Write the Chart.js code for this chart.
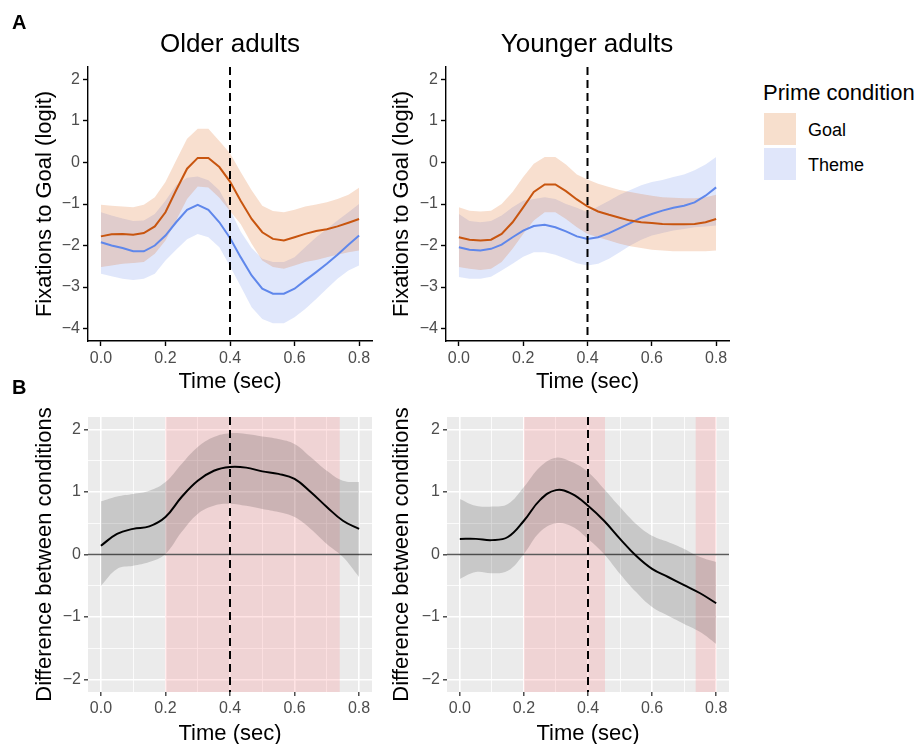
<!DOCTYPE html>
<html>
<head>
<title>Fixations to Goal by prime condition</title>
<script src="https://cdn.jsdelivr.net/npm/chart.js"></script>
<style>
  body { margin: 0; background: #fff; overflow: hidden; font-family: 'Liberation Sans', Arial, sans-serif; }
  #page { position: relative; width: 917px; height: 744px; }
  canvas { position: absolute; }
  .txt { position: absolute; line-height: 1; white-space: nowrap; color: #000; }
  .ptitle { width: 260px; text-align: center; font-size: 26px; }
  .key { position: absolute; width: 32px; height: 32px; }
</style>
</head>
<body>
<div id="page">
  <canvas id="olderTop" width="380" height="400" style="left:0;top:0"></canvas>
  <canvas id="youngerTop" width="380" height="400" style="left:358px;top:0"></canvas>
  <canvas id="olderDiff" width="380" height="352" style="left:0;top:400px"></canvas>
  <canvas id="youngerDiff" width="380" height="352" style="left:358px;top:400px"></canvas>

  <div class="txt" style="left:12px;top:12px;font-size:20px;font-weight:bold">A</div>
  <div class="txt" style="left:12px;top:377px;font-size:20px;font-weight:bold">B</div>
  <div class="txt ptitle" style="left:100px;top:30px">Older adults</div>
  <div class="txt ptitle" style="left:457px;top:30px">Younger adults</div>

  <div class="txt" style="left:763px;top:82px;font-size:22px">Prime condition</div>
  <div class="key" style="left:764px;top:113px;background:#f7dfcd"></div>
  <div class="key" style="left:764px;top:148px;background:#e0e6fa"></div>
  <div class="txt" style="left:808px;top:121px;font-size:18px">Goal</div>
  <div class="txt" style="left:808px;top:156px;font-size:18px">Theme</div>
</div>

<script>
// time points of the fitted curves (sec)
const timeTop = [0, 0.033, 0.067, 0.1, 0.133, 0.167, 0.2, 0.233, 0.267, 0.3, 0.333, 0.367, 0.4,
                 0.433, 0.467, 0.5, 0.533, 0.567, 0.6, 0.633, 0.667, 0.7, 0.733, 0.767, 0.8];

// older adults, fixations to goal (logit)
const olderGoal   = [-1.78, -1.73, -1.72, -1.74, -1.70, -1.54, -1.20, -0.67, -0.15, 0.11, 0.11, -0.11, -0.46,
                     -0.92, -1.36, -1.68, -1.84, -1.88, -1.80, -1.72, -1.65, -1.61, -1.54, -1.45, -1.36];
const olderGoalHi = [-1.02, -1.04, -1.06, -1.08, -1.02, -0.84, -0.47, 0.05, 0.57, 0.81, 0.81, 0.52, 0.22,
                     -0.23, -0.67, -1.04, -1.17, -1.20, -1.14, -1.06, -1.01, -0.96, -0.88, -0.78, -0.61];
const olderGoalLo = [-2.52, -2.48, -2.44, -2.42, -2.40, -2.20, -1.88, -1.40, -0.88, -0.58, -0.60, -0.85, -1.17,
                     -1.48, -1.96, -2.36, -2.52, -2.56, -2.48, -2.40, -2.35, -2.28, -2.22, -2.16, -2.12];
const olderTheme   = [-1.92, -2.00, -2.06, -2.14, -2.14, -2.00, -1.76, -1.44, -1.14, -1.02, -1.14, -1.44, -1.82,
                      -2.28, -2.72, -3.04, -3.16, -3.16, -3.04, -2.84, -2.64, -2.44, -2.22, -1.98, -1.76];
const olderThemeHi = [-1.20, -1.28, -1.35, -1.41, -1.40, -1.24, -0.92, -0.55, -0.37, -0.34, -0.43, -0.67, -1.14,
                      -1.66, -2.06, -2.32, -2.40, -2.40, -2.28, -2.04, -1.80, -1.60, -1.40, -1.20, -1.00];
const olderThemeLo = [-2.68, -2.74, -2.80, -2.83, -2.80, -2.68, -2.36, -2.10, -1.85, -1.72, -1.80, -2.04, -2.50,
                      -2.98, -3.49, -3.77, -3.87, -3.87, -3.73, -3.53, -3.29, -3.04, -2.80, -2.60, -2.48];

// younger adults
const youngerGoal   = [-1.80, -1.86, -1.88, -1.86, -1.72, -1.44, -1.08, -0.71, -0.53, -0.53, -0.69, -0.89, -1.06,
                       -1.18, -1.26, -1.33, -1.40, -1.44, -1.46, -1.48, -1.49, -1.49, -1.48, -1.44, -1.36];
const youngerGoalHi = [-1.08, -1.16, -1.18, -1.16, -1.00, -0.71, -0.35, -0.03, 0.13, 0.13, -0.05, -0.29, -0.41,
                       -0.51, -0.59, -0.66, -0.71, -0.76, -0.80, -0.84, -0.85, -0.86, -0.86, -0.84, -0.78];
const youngerGoalLo = [-2.52, -2.56, -2.59, -2.56, -2.40, -2.08, -1.72, -1.40, -1.20, -1.20, -1.36, -1.56, -1.72,
                       -1.80, -1.88, -1.96, -2.02, -2.06, -2.10, -2.12, -2.14, -2.14, -2.14, -2.14, -2.12];
const youngerTheme   = [-2.04, -2.10, -2.12, -2.08, -1.98, -1.80, -1.64, -1.53, -1.50, -1.56, -1.66, -1.78, -1.84,
                        -1.80, -1.70, -1.58, -1.46, -1.33, -1.24, -1.16, -1.09, -1.04, -0.96, -0.80, -0.60];
const youngerThemeHi = [-1.24, -1.41, -1.44, -1.41, -1.28, -1.08, -0.92, -0.88, -0.84, -0.88, -1.00, -1.09, -1.20,
                        -1.06, -0.92, -0.78, -0.66, -0.55, -0.47, -0.42, -0.35, -0.29, -0.19, -0.05, 0.13];
const youngerThemeLo = [-2.76, -2.80, -2.80, -2.75, -2.60, -2.44, -2.27, -2.16, -2.16, -2.22, -2.32, -2.43, -2.48,
                        -2.44, -2.32, -2.16, -2.00, -1.86, -1.76, -1.70, -1.64, -1.60, -1.56, -1.54, -1.52];

// goal minus theme difference curves
const timeDiff = [0, 0.05, 0.1, 0.15, 0.2, 0.25, 0.3, 0.35, 0.4, 0.45, 0.5, 0.55, 0.6, 0.65, 0.7, 0.75, 0.8];
const olderDiff   = [0.14, 0.33, 0.41, 0.45, 0.60, 0.92, 1.18, 1.34, 1.40, 1.39, 1.33, 1.29, 1.21, 1.00, 0.76, 0.54, 0.41];
const olderDiffHi = [0.85, 0.93, 0.97, 1.02, 1.16, 1.45, 1.72, 1.88, 1.94, 1.93, 1.89, 1.85, 1.77, 1.56, 1.34, 1.18, 1.16];
const olderDiffLo = [-0.50, -0.23, -0.18, -0.12, 0.01, 0.36, 0.65, 0.78, 0.81, 0.78, 0.73, 0.68, 0.60, 0.41, 0.17, -0.04, -0.36];
const youngerDiff   = [0.25, 0.25, 0.23, 0.28, 0.54, 0.87, 1.03, 0.97, 0.78, 0.54, 0.25, -0.02, -0.23, -0.36, -0.49, -0.62, -0.78];
const youngerDiffHi = [0.89, 0.78, 0.77, 0.81, 1.08, 1.40, 1.55, 1.48, 1.32, 1.05, 0.76, 0.49, 0.30, 0.20, 0.09, -0.04, -0.12];
const youngerDiffLo = [-0.39, -0.28, -0.30, -0.26, 0.01, 0.36, 0.50, 0.45, 0.25, 0.01, -0.31, -0.60, -0.84, -0.98, -1.11, -1.24, -1.43];

// time windows where the difference is significant
const olderClusters = [[0.2, 0.74]];
const youngerClusters = [[0.2, 0.453], [0.736, 0.8]];

const boundaryTime = 0.4;
const timeTicks = [0, 0.2, 0.4, 0.6, 0.8];
const timeTicksFine = [0, 0.1, 0.2, 0.3, 0.4, 0.5, 0.6, 0.7, 0.8];
const logitTicks = [-4, -3, -2, -1, 0, 1, 2];
const diffTicks = [-2, -1.5, -1, -0.5, 0, 0.5, 1, 1.5, 2];

const FONT = "'Liberation Sans', Arial, sans-serif";
Chart.defaults.font.family = FONT;

const goalLine = '#c8550f';
const goalFill = 'rgba(220, 95, 15, 0.2)';
const themeLine = '#5f87eb';
const themeFill = 'rgba(100, 135, 235, 0.2)';

const minus = v => String(v).replace('-', '\u2212');
const pts = (xs, ys) => xs.map((x, i) => ({x: x, y: ys[i]}));

// dashed vertical line at the boundary time
const vline = {
  id: 'vline',
  afterDatasetsDraw(chart, args, opts) {
    const {ctx, chartArea, scales} = chart;
    const x = scales.x.getPixelForValue(opts.at);
    ctx.save();
    ctx.beginPath();
    ctx.setLineDash([8, 5]);
    ctx.lineWidth = 2;
    ctx.strokeStyle = '#000';
    ctx.moveTo(x, chartArea.top);
    ctx.lineTo(x, chartArea.bottom);
    ctx.stroke();
    ctx.restore();
  }
};

// grey panel background
const panelBg = {
  id: 'panelBg',
  beforeDraw(chart) {
    const {ctx, chartArea: a} = chart;
    ctx.save();
    ctx.fillStyle = '#ebebeb';
    ctx.fillRect(a.left, a.top, a.right - a.left, a.bottom - a.top);
    ctx.restore();
  }
};

// shaded significant windows and the zero reference line
const clusters = {
  id: 'clusters',
  beforeDatasetsDraw(chart, args, opts) {
    const {ctx, chartArea: a, scales} = chart;
    ctx.save();
    ctx.fillStyle = 'rgba(255, 115, 120, 0.2)';
    opts.spans.forEach(([from, to]) => {
      const x1 = scales.x.getPixelForValue(from);
      const x2 = scales.x.getPixelForValue(to);
      ctx.fillRect(x1, a.top, x2 - x1, a.bottom - a.top);
    });
    const y0 = scales.y.getPixelForValue(0);
    ctx.beginPath();
    ctx.strokeStyle = '#5a5a5a';
    ctx.lineWidth = 1.5;
    ctx.moveTo(a.left, y0);
    ctx.lineTo(a.right, y0);
    ctx.stroke();
    ctx.restore();
  }
};

function bound(data, fill) {
  return { data: data, borderColor: 'transparent', borderWidth: 0, pointRadius: 0,
           backgroundColor: fill || 'transparent', fill: fill ? '+1' : false };
}

function timeAxis(ticks, fine, titlePad) {
  const major = v => Math.round(v * 10) % 2 === 0;
  return {
    type: 'linear', min: -0.04, max: 0.84,
    afterBuildTicks: s => { s.ticks = ticks.map(v => ({value: v})); },
    afterFit: s => { s.height = fine ? 60 : 59; },
    ticks: {
      autoSkip: false, maxRotation: 0, padding: 3, color: '#4d4d4d', font: {size: 16},
      callback: v => (major(v) ? v.toFixed(1) : '')
    },
    grid: fine ? {
      drawOnChartArea: true, tickLength: 4,
      color: '#ffffff',
      lineWidth: c => (c.tick && major(c.tick.value) ? 1.6 : 0.8),
      tickColor: c => (c.tick && major(c.tick.value) ? '#333333' : 'rgba(0,0,0,0)'),
      tickWidth: 1.3
    } : { drawOnChartArea: false, tickLength: 5, color: '#000', tickWidth: 1.4 },
    border: fine ? { display: false } : { color: '#000', width: 1.4 },
    title: { display: true, text: 'Time (sec)', color: '#000', font: {size: 22}, padding: {top: 0, bottom: titlePad} }
  };
}

function valueAxis(min, max, ticks, fine, width, title, titlePad) {
  const major = v => Number.isInteger(v);
  return {
    min: min, max: max,
    afterBuildTicks: s => { s.ticks = ticks.map(v => ({value: v})); },
    afterFit: s => { s.width = width; },
    ticks: {
      autoSkip: false, padding: 3, color: '#4d4d4d', font: {size: 16},
      callback: v => (major(v) ? minus(v) : '')
    },
    grid: fine ? {
      drawOnChartArea: true, tickLength: 4,
      color: '#ffffff',
      lineWidth: c => (c.tick && major(c.tick.value) ? 1.6 : 0.8),
      tickColor: c => (c.tick && major(c.tick.value) ? '#333333' : 'rgba(0,0,0,0)'),
      tickWidth: 1.3
    } : { drawOnChartArea: false, tickLength: 5, color: '#000', tickWidth: 1.4 },
    border: fine ? { display: false } : { color: '#000', width: 1.4 },
    title: { display: true, text: title, color: '#000', font: {size: 22}, padding: {top: titlePad, bottom: 0} }
  };
}

function logitPanel(id, axisWidth, rightPad, titlePad, goal, goalHi, goalLo, theme, themeHi, themeLo) {
  new Chart(document.getElementById(id), {
    type: 'line',
    data: {
      datasets: [
        bound(pts(timeTop, goalHi), goalFill),
        bound(pts(timeTop, goalLo)),
        bound(pts(timeTop, themeHi), themeFill),
        bound(pts(timeTop, themeLo)),
        { data: pts(timeTop, goal), borderColor: goalLine, borderWidth: 2, pointRadius: 0, fill: false, tension: 0 },
        { data: pts(timeTop, theme), borderColor: themeLine, borderWidth: 2, pointRadius: 0, fill: false, tension: 0 }
      ]
    },
    options: {
      responsive: false,
      animation: false,
      layout: { padding: { left: 0, top: 67, right: rightPad, bottom: 0 } },
      plugins: {
        legend: { display: false },
        tooltip: { enabled: false },
        filler: { drawTime: 'beforeDatasetsDraw' },
        vline: { at: boundaryTime }
      },
      scales: {
        x: timeAxis(timeTicks, false, 5),
        y: valueAxis(-4.3, 2.3, logitTicks, false, axisWidth, 'Fixations to Goal (logit)', titlePad)
      }
    },
    plugins: [vline]
  });
}

function diffPanel(id, axisWidth, rightPad, titlePad, mean, hi, lo, spans) {
  new Chart(document.getElementById(id), {
    type: 'line',
    data: {
      datasets: [
        { data: pts(timeDiff, mean), borderColor: '#000', borderWidth: 2, pointRadius: 0, fill: false, tension: 0.4 },
        Object.assign(bound(pts(timeDiff, hi), 'rgba(0, 0, 0, 0.15)'), { tension: 0.4 }),
        Object.assign(bound(pts(timeDiff, lo)), { tension: 0.4 })
      ]
    },
    options: {
      responsive: false,
      animation: false,
      layout: { padding: { left: 0, top: 17, right: rightPad, bottom: 0 } },
      plugins: {
        legend: { display: false },
        tooltip: { enabled: false },
        vline: { at: boundaryTime },
        clusters: { spans: spans }
      },
      scales: {
        x: timeAxis(timeTicksFine, true, 5),
        y: valueAxis(-2.2, 2.2, diffTicks, true, axisWidth, 'Difference between conditions', titlePad)
      }
    },
    plugins: [panelBg, clusters, vline]
  });
}

logitPanel('olderTop', 88, 8, 32, olderGoal, olderGoalHi, olderGoalLo, olderTheme, olderThemeHi, olderThemeLo);
logitPanel('youngerTop', 88, 9, 31, youngerGoal, youngerGoalHi, youngerGoalLo, youngerTheme, youngerThemeHi, youngerThemeLo);
diffPanel('olderDiff', 88, 8, 32, olderDiff, olderDiffHi, olderDiffLo, olderClusters);
diffPanel('youngerDiff', 89, 9, 31, youngerDiff, youngerDiffHi, youngerDiffLo, youngerClusters);
</script>
</body>
</html>
